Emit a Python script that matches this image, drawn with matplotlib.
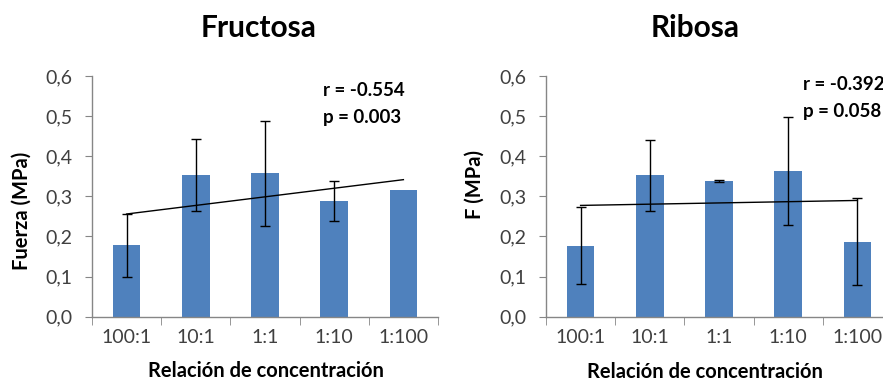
import numpy as np
import matplotlib.pyplot as plt

plt.rcParams['font.family'] = ['Lato', 'DejaVu Sans']

categorias = ['100:1', '10:1', '1:1', '1:10', '1:100']

fructosa = [0.178, 0.353, 0.357, 0.289, 0.317]
fructosa_err = [0.078, 0.090, 0.130, 0.050, 0.0]
ribosa = [0.177, 0.352, 0.339, 0.363, 0.187]
ribosa_err = [0.096, 0.088, 0.002, 0.135, 0.108]

stats_fructosa = ['r = -0.554', 'p = 0.003']
stats_ribosa = ['r = -0.392', 'p = 0.058']

W, H = 883, 382
fig = plt.figure(figsize=(W / 100, H / 100), dpi=100)

bar_color = '#4F81BD'
axis_color = '#868686'
tick_color = '#404040'


def px(x, y):
    return x / W, 1 - y / H


def panel(left, values, errs, ylabel, ylabel_xy, title, title_xy, stats, stats_xy, xlabel_xy):
    bottom, top = 316.7, 76
    ax = fig.add_axes([left / W, 1 - bottom / H, 346 / W, (bottom - top) / H])
    x = np.arange(len(values))
    ax.bar(x, values, width=0.4, color=bar_color, zorder=2)
    errs = np.array(errs)
    mask = errs > 0
    ax.errorbar(x[mask], np.array(values)[mask], yerr=errs[mask], fmt='none',
                ecolor='black', elinewidth=1, capsize=3.5, capthick=1, zorder=3)
    # linear trendline (Excel-style)
    k, b = np.polyfit(x, values, 1)
    ax.plot([x[0], x[-1]], [k * x[0] + b, k * x[-1] + b], color='black', lw=1, zorder=4)

    ax.set_xlim(-0.5, len(values) - 0.5)
    ax.set_ylim(0, 0.6)
    ax.set_yticks(np.arange(0, 0.61, 0.1))
    ax.set_yticklabels([f'{v:.1f}'.replace('.', ',') for v in np.arange(0, 0.61, 0.1)])
    ax.set_xticks(x)
    ax.set_xticklabels(categorias)
    ax.set_xticks(np.arange(-0.5, len(values), 1.0), minor=True)
    ax.tick_params(axis='x', which='major', length=0, pad=9, labelsize=14, labelcolor=tick_color)
    ax.tick_params(axis='x', which='minor', length=6, color=axis_color, direction='out')
    ax.tick_params(axis='y', length=5, color=axis_color, pad=9, labelsize=14, labelcolor=tick_color)
    for s in ['top', 'right']:
        ax.spines[s].set_visible(False)
    for s in ['left', 'bottom']:
        ax.spines[s].set_color(axis_color)
        ax.spines[s].set_linewidth(1)

    fig.text(*px(*title_xy), title, ha='center', va='center', fontsize=21.5, fontweight='bold')
    fig.text(*px(*ylabel_xy), ylabel, ha='center', va='center', rotation=90,
             fontsize=14.5, fontweight='bold')
    fig.text(*px(*xlabel_xy), 'Relación de concentración', ha='center', va='center',
             fontsize=14.5, fontweight='bold')
    fig.text(*px(stats_xy[0], stats_xy[1]), stats[0], ha='left', va='center',
             fontsize=13.5, fontweight='bold')
    fig.text(*px(stats_xy[0], stats_xy[1] + 27), stats[1], ha='left', va='center',
             fontsize=13.5, fontweight='bold')
    return ax


panel(92, fructosa, fructosa_err, 'Fuerza (MPa)', (22, 211), 'Fructosa', (259, 28),
      stats_fructosa, (323, 91), (266, 371))
panel(546, ribosa, ribosa_err, 'F (MPa)', (475, 184), 'Ribosa', (695, 28),
      stats_ribosa, (803, 84), (705, 372))

fig.savefig('out.png', dpi=100)
